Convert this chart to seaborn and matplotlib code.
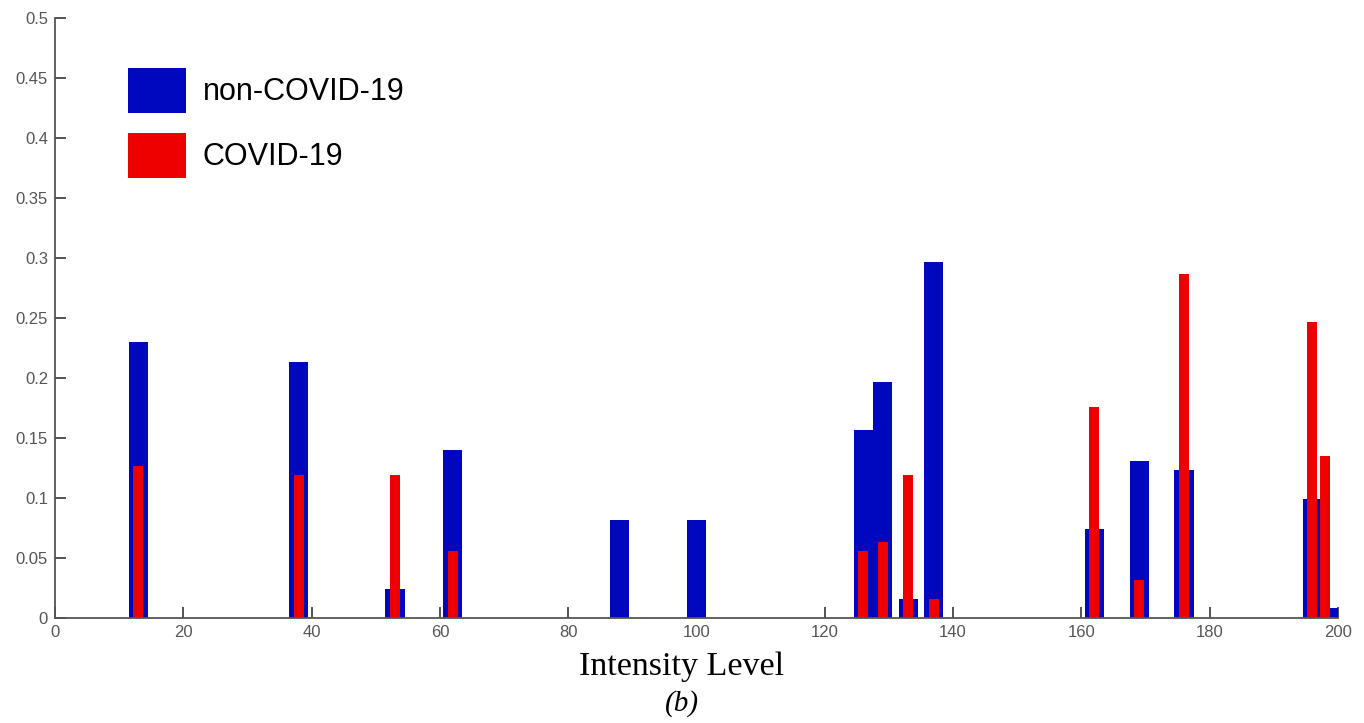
import matplotlib
matplotlib.use("Agg")
import matplotlib.pyplot as plt
from matplotlib.patches import Patch
import seaborn as sns
import pandas as pd

# Data
non_covid_levels = [13, 38, 53, 62, 88, 100, 126, 129, 133, 137, 162, 169, 176, 196, 200]
non_covid_values = [0.230, 0.213, 0.024, 0.140, 0.082, 0.082, 0.157, 0.197, 0.016, 0.297,
                    0.074, 0.131, 0.123, 0.099, 0.008]
covid_levels = [13, 38, 53, 62, 126, 129, 133, 137, 162, 169, 176, 196, 198]
covid_values = [0.127, 0.119, 0.119, 0.056, 0.056, 0.063, 0.119, 0.016, 0.176, 0.032,
                0.287, 0.247, 0.135]
series_labels = ["non-COVID-19", "COVID-19"]
x_ticks = [0, 20, 40, 60, 80, 100, 120, 140, 160, 180, 200]
y_ticks = [0, 0.05, 0.1, 0.15, 0.2, 0.25, 0.3, 0.35, 0.4, 0.45, 0.5]
y_tick_labels = ["0", "0.05", "0.1", "0.15", "0.2", "0.25", "0.3", "0.35", "0.4", "0.45", "0.5"]
x_label = "Intensity Level"
caption = "(b)"

BLUE = "#0008BF"
RED = "#EE0000"

sns.set_theme(style="white")
plt.rcParams["font.family"] = ["Liberation Sans", "DejaVu Sans"]

df_nc = pd.DataFrame({"level": non_covid_levels, "value": non_covid_values})
df_c = pd.DataFrame({"level": covid_levels, "value": covid_values})

fig = plt.figure(figsize=(13.64, 7.23), dpi=100)
ax = fig.add_axes([55 / 1364, 1 - 618 / 723, (1338 - 55) / 1364, (618 - 18) / 723])

# blue bars ~3 units wide (min spacing 3), red bars ~1.5 units (min spacing 2)
sns.barplot(data=df_nc, x="level", y="value", native_scale=True, width=1.0,
            color=BLUE, saturation=1, edgecolor="none", linewidth=0, ax=ax,
            errorbar=None)
sns.barplot(data=df_c, x="level", y="value", native_scale=True, width=0.78,
            color=RED, saturation=1, edgecolor="none", linewidth=0, ax=ax,
            errorbar=None)
for p in ax.patches:
    p.set_clip_on(True)

ax.set_xlim(0, 200)
ax.set_ylim(0, 0.5)
ax.set_xticks(x_ticks)
ax.set_xticklabels([str(t) for t in x_ticks])
ax.set_yticks(y_ticks)
ax.set_yticklabels(y_tick_labels)
ax.set_xlabel("")
ax.set_ylabel("")

for side in ["top", "right"]:
    ax.spines[side].set_visible(False)
for side in ["left", "bottom"]:
    ax.spines[side].set_color("#555555")
    ax.spines[side].set_linewidth(1.3)

ax.tick_params(axis="both", direction="in", length=8, width=1.3, color="#444444",
               labelsize=12, labelcolor="#555555", left=True, bottom=True)
ax.tick_params(axis="x", pad=5)
ax.tick_params(axis="y", pad=5)

handles = [Patch(facecolor=BLUE, edgecolor="none"), Patch(facecolor=RED, edgecolor="none")]
leg = ax.legend(handles, series_labels, loc="upper left",
                bbox_to_anchor=(128 / 1364, 1 - 68 / 723), bbox_transform=fig.transFigure,
                frameon=False, fontsize=22, handlelength=1.9, handleheight=1.885,
                handletextpad=0.55, labelspacing=0.65, borderpad=0, borderaxespad=0)
for t in leg.get_texts():
    t.set_color("black")

fig.text(682 / 1364, 1 - 667 / 723, x_label, ha="center", va="center",
         family=["Liberation Serif", "DejaVu Serif"], fontsize=24.5, color="black")
fig.text(682 / 1364, 1 - 704 / 723, caption, ha="center", va="center",
         family=["Liberation Serif", "DejaVu Serif"], style="italic", fontsize=21,
         color="black")

fig.savefig("out.png", dpi=100, facecolor="white")
